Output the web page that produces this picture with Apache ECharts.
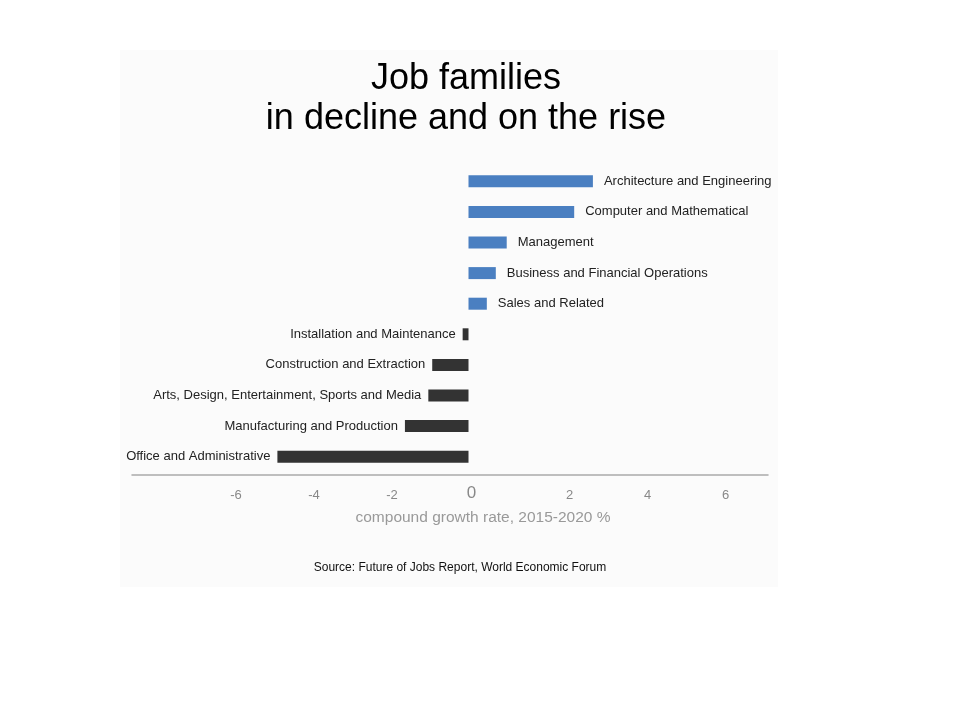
<!DOCTYPE html>
<html>
<head>
<meta charset="utf-8">
<script src="https://cdn.jsdelivr.net/npm/echarts@6/dist/echarts.min.js"></script>
<style>
html,body{margin:0;padding:0;background:#fff;}
#c{width:960px;height:720px;}
</style>
</head>
<body>
<div id="c"></div>
<script>
const categories = [
  'Architecture and Engineering',
  'Computer and Mathematical',
  'Management',
  'Business and Financial Operations',
  'Sales and Related',
  'Installation and Maintenance',
  'Construction and Extraction',
  'Arts, Design, Entertainment, Sports and Media',
  'Manufacturing and Production',
  'Office and Administrative'
];
const growthRates = [3.19, 2.71, 0.98, 0.70, 0.47, -0.15, -0.93, -1.03, -1.63, -4.90];
const xTicks = [-6, -4, -2, 0, 2, 4, 6];
const titleText = 'Job families\nin decline and on the rise';
const axisTitle = 'compound growth rate, 2015-2020 %';
const sourceText = 'Source: Future of Jobs Report, World Economic Forum';

const FONT = "'Liberation Sans', Arial, Helvetica, sans-serif";
const riseData = growthRates.map(v => v > 0 ? v : '-');
const declineData = growthRates.map(v => v < 0 ? v : '-');

const chart = echarts.init(document.getElementById('c'));
chart.setOption({
  backgroundColor: '#ffffff',
  animation: false,
  textStyle: { fontFamily: FONT },
  graphic: [{
    type: 'rect', z: -10, silent: true,
    shape: { x: 120, y: 50, width: 658, height: 537 },
    style: { fill: '#fbfbfb' }
  }],
  title: [{
    text: titleText,
    left: 466, top: 59, padding: 0,
    textAlign: 'center',
    textStyle: { fontFamily: FONT, fontSize: 36, fontWeight: 'normal', color: '#000', lineHeight: 40 }
  }, {
    text: sourceText,
    left: 460, top: 562, padding: 0,
    textAlign: 'center',
    textStyle: { fontFamily: FONT, fontSize: 12, fontWeight: 'normal', color: '#111' }
  }],
  grid: [
    { left: 156.5, width: 624, top: 166, height: 306 },
    { left: 132, width: 636, top: 474, height: 1 }
  ],
  xAxis: [{
    gridIndex: 0, type: 'value', min: -8, max: 8, interval: 2,
    axisLine: { show: false }, axisTick: { show: false }, splitLine: { show: false },
    axisLabel: {
      margin: 30, verticalAlign: 'bottom',
      color: '#888', fontSize: 13, fontFamily: FONT,
      formatter: function (v) {
        if (xTicks.indexOf(v) < 0) return '';
        if (v === 0) return '{z|0}';
        if (v > 0) return '{p|' + v + '}';
        return '{n|' + v + '}';
      },
      rich: {
        z: { fontSize: 17, color: '#888', fontFamily: FONT, padding: [0, 0, 0, 6] },
        p: { fontSize: 13, color: '#888', fontFamily: FONT, padding: [0, 0, 0, 46] },
        n: { fontSize: 13, color: '#888', fontFamily: FONT, padding: [0, 0, 0, 3] }
      }
    },
    name: axisTitle, nameLocation: 'middle', nameGap: 38,
    nameTextStyle: { color: '#999', fontSize: 15.5, fontFamily: FONT, padding: [0, 0, 0, 29] }
  }, {
    gridIndex: 1, type: 'value', min: 0, max: 1,
    axisLine: { show: true, lineStyle: { color: '#aaaaaa', width: 1.5 } },
    axisTick: { show: false }, axisLabel: { show: false }, splitLine: { show: false }
  }],
  yAxis: [{
    gridIndex: 0, type: 'category', data: categories, inverse: true, show: false
  }, {
    gridIndex: 1, type: 'value', show: false
  }],
  series: [{
    name: 'rise', type: 'bar', stack: 'all', barWidth: 12,
    data: riseData,
    itemStyle: { color: '#4a7fc1' },
    label: {
      show: true, position: 'right', distance: 11,
      formatter: p => categories[p.dataIndex],
      color: '#222', fontSize: 13, fontFamily: FONT
    }
  }, {
    name: 'decline', type: 'bar', stack: 'all', barWidth: 12,
    data: declineData,
    itemStyle: { color: '#333333' },
    label: {
      show: true, position: 'left', distance: 7,
      formatter: p => categories[p.dataIndex],
      color: '#222', fontSize: 13, fontFamily: FONT
    }
  }]
});
</script>
</body>
</html>
